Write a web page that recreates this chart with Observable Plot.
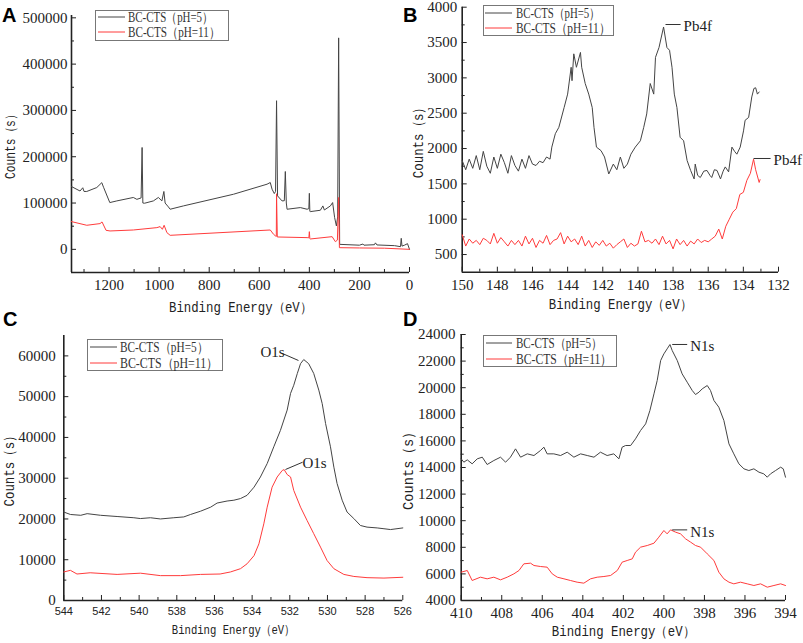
<!DOCTYPE html>
<html><head><meta charset="utf-8">
<script src="https://cdn.jsdelivr.net/npm/d3@7"></script>
<script src="https://cdn.jsdelivr.net/npm/@observablehq/plot@0.6"></script>
<style>
body{margin:0;background:#fff;}
#root{position:relative;width:803px;height:643px;overflow:hidden;background:#fff;}
#root svg{overflow:visible;position:absolute;}
.letter{position:absolute;font:bold 20px "Liberation Sans",Arial,sans-serif;color:#000;line-height:1;}
</style></head><body><div id="root"></div>
<script>
// ---------- Data ----------
const seriesLabels = ["BC-CTS（pH=5）", "BC-CTS（pH=11）"];
const seriesColors = ["#444444", "#ff3b3b"];

// Panel A (survey)
const aBlackE = [1350,1316,1305,1300,1289,1249,1229,1222,1197,1169,1103,1089,1072,1068,1065,1058,1023,1003,989,981,976,963,956,903,703,569,556,549,540,535,531,527,509,500,496,492,489,436,409,402,400,398,396,356,346,340,316,307,299,292,287,283,279,200,186,182,140,136,130,60,36,33,30,20,8,0];
const aBlackV = [135600,126000,133000,125000,125000,133500,144000,134000,101000,104600,112000,108000,111000,220000,100000,99600,104600,112000,104600,125000,100000,91600,86600,93800,119000,140700,144300,129900,120500,125000,321000,115400,104600,105000,168100,100000,86600,90200,86600,88000,121000,82000,81500,84400,93800,85000,93800,101000,68500,50500,70000,456700,10800,9000,11500,9000,10000,14000,9500,8000,5800,23800,7000,9000,12300,0];
const aRedE = [1350,1289,1236,1228,1212,1196,1103,1009,996,987,980,969,956,556,543,535,532,531,528,409,402,400,398,396,309,296,288,283,280,200,100,0];
const aRedV = [59900,52000,55600,59200,41100,39700,41800,46900,49100,43300,52000,36100,30300,41800,32500,28900,28000,120000,26700,25300,25000,38200,23000,22400,27400,16600,20000,112000,3600,3000,2500,0];

// Panel B (Pb4f)
const bBlackE = [150.0,149.8,149.6,149.4,149.2,149.0,148.8,148.6,148.4,148.2,148.0,147.8,147.6,147.4,147.2,147.0,146.8,146.6,146.4,146.2,146.0,145.8,145.6,145.4,145.2,145.0,144.9,144.7,144.5,144.2,144.0,143.8,143.75,143.65,143.5,143.27,143.2,143.0,142.8,142.6,142.5,142.36,142.1,141.9,141.66,141.4,141.2,141.0,140.8,140.6,140.4,140.15,139.86,139.67,139.5,139.3,139.1,139.0,138.8,138.54,138.35,138.2,138.06,137.93,137.78,137.6,137.4,137.2,137.0,136.8,136.74,136.6,136.45,136.25,136.07,135.9,135.8,135.65,135.5,135.3,135.15,135.03,134.84,134.65,134.5,134.37,134.18,133.99,133.9,133.7,133.52,133.4,133.3,133.2,133.1];
const bBlackV = [1830,1700,1850,1720,1900,1700,1960,1750,1650,1880,1720,1920,1800,1650,1900,1760,1680,1850,1720,1900,1780,1760,1820,1800,1880,1850,2020,2210,2300,2580,2770,3150,2960,3340,3150,3360,3150,2920,2770,2580,2300,2020,1970,1880,1640,1780,1700,1880,1720,1780,1920,2020,2110,2300,2490,2920,2770,3290,3430,3720,3430,3390,3150,2770,2580,2160,2110,1830,1690,1570,1780,1620,1590,1680,1690,1620,1590,1700,1690,1570,1680,1740,1670,2020,1960,1920,2020,2250,2400,2440,2730,2850,2860,2770,2800];
const bRedE = [150.0,149.8,149.6,149.4,149.2,149.0,148.8,148.6,148.4,148.2,148.0,147.8,147.6,147.4,147.2,147.0,146.8,146.6,146.4,146.2,146.0,145.8,145.6,145.4,145.2,145.0,144.8,144.6,144.4,144.2,144.0,143.8,143.6,143.4,143.2,143.0,142.8,142.6,142.4,142.2,142.0,141.8,141.6,141.4,141.2,141.0,140.8,140.6,140.4,140.2,140.0,139.8,139.6,139.4,139.2,139.0,138.8,138.6,138.4,138.2,138.0,137.8,137.6,137.4,137.2,137.0,136.8,136.6,136.4,136.2,136.0,135.8,135.6,135.4,135.2,135.0,134.8,134.6,134.4,134.2,134.0,133.8,133.6,133.42,133.3,133.1,133.05];
const bRedV = [780,620,720,660,700,640,730,700,650,800,660,740,680,620,700,640,700,620,760,650,730,600,700,660,770,640,700,720,810,650,760,680,720,640,760,620,700,600,680,630,700,620,660,590,640,680,720,600,660,620,650,830,680,700,660,720,640,760,650,700,580,720,640,700,620,690,650,720,670,700,680,720,760,860,720,900,1000,1100,1150,1350,1380,1550,1650,1850,1700,1520,1560];
const bAnnText = ["Pb4f", "Pb4f"];
const bAnnE1 = [138.43, 133.42], bAnnE2 = [137.57, 132.45], bAnnV = [3755, 1859];

// Panel C (O1s)
const cBlackE = [544,543.65,543.1,542.76,542.05,541.17,540.28,539.93,539.4,538.87,538.16,537.63,537.27,536.74,536.2,535.86,535.33,534.97,534.62,534.27,533.9,533.56,533.2,532.85,532.5,532.14,531.96,531.79,531.6,531.43,531.26,531.0,530.73,530.46,530.28,530.1,529.84,529.66,529.49,529.22,528.96,528.6,528.25,527.9,527.36,527.0,526.65,526];
const cBlackV = [21700,21100,20900,21300,20900,20600,20300,20100,20300,20000,20300,20500,21100,21900,22900,23900,24400,24600,25000,25800,27800,30300,33600,37700,41700,46700,50800,52800,55700,58100,59100,58100,55700,51600,48300,43400,37700,32700,28700,24600,21700,20100,18400,18000,17800,17600,17400,17800];
const cRedE = [544,543.65,543.3,542.6,541.17,539.93,538.87,537.8,536.74,535.7,535.15,534.62,534.27,533.9,533.64,533.38,533.2,532.94,532.67,532.4,532.3,532.14,531.96,531.79,531.43,531.08,530.73,530.37,530.02,529.66,529.13,528.6,527.9,527.0,526];
const cRedV = [7000,7400,6500,6800,6400,6700,6100,6100,6400,6500,7000,7800,9000,11000,13900,18800,22900,27800,30300,31900,32100,30900,30300,27000,22900,19600,16400,13100,9800,7800,6400,5900,5600,5500,5700];
const cAnnText = ["O1s", "O1s"];
const cAnnTE = [532.92, 530.69], cAnnTV = [60830, 33680];
const cAnnE1 = [532.39, 532.23], cAnnV1 = [60580, 32130];
const cAnnE2 = [531.54, 531.32], cAnnV2 = [58870, 33920];

// Panel D (N1s)
const dBlackE = [410.00,409.87,409.70,409.46,409.21,408.96,408.72,408.39,408.06,407.81,407.57,407.32,407.07,406.74,406.41,406.09,405.92,405.76,405.43,405.10,404.77,404.44,404.11,403.78,403.45,403.13,402.80,402.47,402.22,402.06,401.89,401.64,401.40,401.15,400.90,400.69,400.49,400.33,400.16,400.00,399.84,399.70,399.59,399.34,399.10,398.85,398.60,398.44,398.27,398.11,397.86,397.70,397.53,397.29,397.04,396.79,396.55,396.30,396.05,395.81,395.56,395.31,395.07,394.90,394.74,394.49,394.24,394.11,394.00];
const dBlackV = [14650,14400,14575,14275,14650,14776,14224,14525,14776,14400,14776,15402,14776,15026,14901,15277,15528,15026,15026,14901,15152,14776,15026,14901,14776,15152,14901,15026,14650,15528,15653,15653,16154,16781,17282,18284,19537,20540,22043,22544,22920,23246,22795,22043,21041,20414,19788,19487,19663,19913,20164,19788,19036,18535,17532,15778,15026,14275,13899,13773,13899,13648,13523,13272,13523,13773,14024,13899,13272];
const dRedE = [410.00,409.70,409.46,409.05,408.72,408.39,408.06,407.73,407.40,407.15,406.91,406.58,406.41,406.09,405.76,405.51,405.26,404.93,404.61,404.28,403.95,403.62,403.29,402.96,402.63,402.30,402.06,401.81,401.56,401.40,401.15,400.82,400.49,400.25,400.00,399.84,399.67,399.42,399.18,398.93,398.68,398.44,398.19,397.86,397.53,397.29,397.04,396.79,396.55,396.22,395.89,395.56,395.23,394.90,394.57,394.24,394.00];
const dRedV = [6130,6255,5504,5754,5629,5754,5554,5754,6005,6255,6757,6807,6631,6556,6506,6005,5754,5629,5504,5378,5303,5629,5754,5804,5880,6255,6882,7007,7133,7634,8010,8135,8310,8761,9263,9012,9313,9137,9012,8636,8386,8135,8010,7508,7007,6130,5629,5378,5253,5378,5253,5128,5253,5002,5128,5253,5128];
const dAnnText = ["N1s", "N1s"];
const dAnnE1 = [399.59, 399.59], dAnnE2 = [398.85, 398.85], dAnnV = [23250, 9310];

// Tick values
const aXTicks = [1200,1000,800,600,400,200,0], aXMinor = [1300,1100,900,700,500,300,100];
const aYTicks = [0,100000,200000,300000,400000,500000], aYMinor = [50000,150000,250000,350000,450000];
const bXTicks = [150,148,146,144,142,140,138,136,134,132], bXMinor = [149,147,145,143,141,139,137,135,133];
const bYTicks = [500,1000,1500,2000,2500,3000,3500,4000], bYMinor = [750,1250,1750,2250,2750,3250,3750];
const cXTicks = [544,542,540,538,536,534,532,530,528,526], cXMinor = [543,541,539,537,535,533,531,529,527];
const cYTicks = [0,10000,20000,30000,40000,50000,60000], cYMinor = [5000,15000,25000,35000,45000,55000];
const dXTicks = [410,408,406,404,402,400,398,396,394], dXMinor = [409,407,405,403,401,399,397,395];
const dYTicks = [4000,6000,8000,10000,12000,14000,16000,18000,20000,22000,24000], dYMinor = [5000,7000,9000,11000,13000,15000,17000,19000,21000,23000];

const xTitle = "Binding Energy（eV）";
const yTitle = "Counts（s）";

// ---------- Drawing ----------
const root = document.getElementById("root");
const zip = (E, V) => E.map((e, i) => ({e, v: V[i]}));
const SERIF = '"Liberation Serif", "Times New Roman", serif';
const MONO = '"Liberation Mono", "DejaVu Sans Mono", monospace';

function panel(c) {
  const marks = [
    Plot.ruleX([c.xdom[0]], {stroke: "#222", strokeWidth: 1.6}),
    Plot.ruleY([c.ydom[0]], {stroke: "#222", strokeWidth: 1.6}),
    Plot.axisX({ticks: c.xt, tickSize: -5, tickPadding: c.xpad, tickFormat: d => String(d),
      label: xTitle, labelAnchor: "center", labelArrow: "none", labelOffset: c.xlo}),
    Plot.axisX({ticks: c.xm, tickSize: -3, tickFormat: () => "", label: null}),
    Plot.axisY({ticks: c.yt, tickSize: -5, tickPadding: c.ypad, tickFormat: d => String(d),
      label: yTitle, labelAnchor: "center", labelArrow: "none", labelOffset: c.ylo}),
    Plot.axisY({ticks: c.ym, tickSize: -3, tickFormat: () => "", label: null}),
    Plot.line(zip(c.bE, c.bV), {x: "e", y: "v", stroke: seriesColors[0], strokeWidth: 1}),
    Plot.line(zip(c.rE, c.rV), {x: "e", y: "v", stroke: seriesColors[1], strokeWidth: 1}),
    ...(c.extra || [])
  ];
  const svg = Plot.plot({
    width: c.w, height: c.h,
    marginLeft: c.ml, marginRight: c.mr, marginTop: c.mt, marginBottom: c.mb,
    style: {fontFamily: SERIF, fontSize: "15px", color: "#222", background: "transparent", overflow: "visible"},
    x: {domain: c.xdom},
    y: {domain: c.ydom},
    marks
  });
  svg.style.left = c.left + "px";
  svg.style.top = c.top + "px";
  root.appendChild(svg);
  const s = d3.select(svg);
  // tick labels and annotations: serif
  s.selectAll("text").style("font-family", SERIF).style("font-size", "15px").attr("fill", "#222");
  // x tick labels override (panel C uses small sans)
  if (c.xfs) {
    const xs = new Set(c.xt.map(String));
    s.selectAll('g[aria-label="x-axis tick label"] text')
      .filter(function () { return xs.has(this.textContent); })
      .style("font-family", c.xff).style("font-size", c.xfs + "px");
  }
  s.selectAll("text").filter(function () { return this.textContent === xTitle; })
    .style("font-family", MONO).style("font-size", c.xlfs + "px")
    .attr("textLength", c.xll).attr("lengthAdjust", "spacingAndGlyphs");
  s.selectAll("text").filter(function () { return this.textContent === yTitle; })
    .style("font-family", MONO).style("font-size", c.ylfs + "px")
    .attr("textLength", c.yll).attr("lengthAdjust", "spacingAndGlyphs");
  return svg;
}

function legend(left, top, w, h, rowY, lineX, textX, lens, fs) {
  const svg = d3.select(root).append("svg")
    .attr("width", w + 1).attr("height", h + 1)
    .style("left", left + "px").style("top", top + "px");
  svg.append("rect").attr("x", 0.5).attr("y", 0.5).attr("width", w).attr("height", h)
    .attr("fill", "white").attr("stroke", "#777").attr("stroke-width", 1);
  seriesLabels.forEach((lab, i) => {
    svg.append("line").attr("x1", lineX[0]).attr("x2", lineX[1]).attr("y1", rowY[i]).attr("y2", rowY[i])
      .attr("stroke", seriesColors[i]).attr("stroke-width", 1);
    svg.append("text").attr("x", textX).attr("y", rowY[i]).attr("dy", "0.35em")
      .attr("textLength", lens[i]).attr("lengthAdjust", "spacingAndGlyphs")
      .style("font-family", SERIF).style("font-size", fs + "px").attr("fill", "#333")
      .text(lab);
  });
}

function letter(t, x, y) {
  const d = document.createElement("div");
  d.className = "letter"; d.textContent = t;
  d.style.left = x + "px"; d.style.top = y + "px";
  root.appendChild(d);
}

// A
panel({left: 0, top: 0, w: 412, h: 320, ml: 71, mr: 3, mt: 15, mb: 48,
  xdom: [1350, 0], ydom: [-50000, 505000], xt: aXTicks, xm: aXMinor, yt: aYTicks, ym: aYMinor,
  xpad: 12, ypad: 9, xlo: 39, ylo: 66, xlfs: 14, xll: 143, ylfs: 14, yll: 70,
  bE: aBlackE, bV: aBlackV, rE: aRedE, rV: aRedV});

// B
const bAnn = bAnnText.map((t, i) => ({t, e1: bAnnE1[i], e2: bAnnE2[i], v: bAnnV[i]}));
panel({left: 400, top: 0, w: 403, h: 320, ml: 61.7, mr: 25, mt: 6.7, mb: 48.3,
  xdom: [150, 132], ydom: [250, 4000], xt: bXTicks, xm: bXMinor, yt: bYTicks, ym: bYMinor,
  xpad: 12, ypad: 10, xlo: 37, ylo: 50, xlfs: 14, xll: 143, ylfs: 15, yll: 77,
  bE: bBlackE, bV: bBlackV, rE: bRedE, rV: bRedV,
  extra: [
    Plot.link(bAnn, {x1: "e1", x2: "e2", y1: "v", y2: "v", stroke: "#333", strokeWidth: 1}),
    Plot.text(bAnn, {x: "e2", y: "v", text: "t", textAnchor: "start", dx: 3, dy: 2})
  ]});

// C
const cAnn = cAnnText.map((t, i) => ({t, te: cAnnTE[i], tv: cAnnTV[i], e1: cAnnE1[i], v1: cAnnV1[i], e2: cAnnE2[i], v2: cAnnV2[i]}));
panel({left: 0, top: 320, w: 412, h: 323, ml: 63.3, mr: 9.7, mt: 15, mb: 43,
  xdom: [544, 526], ydom: [0, 65000], xt: cXTicks, xm: cXMinor, yt: cYTicks, ym: cYMinor,
  xpad: 12, ypad: 13, xlo: 33, ylo: 60, xlfs: 13, xll: 123, ylfs: 15, yll: 77,
  xfs: 11, xff: '"Liberation Sans", Arial, sans-serif',
  bE: cBlackE, bV: cBlackV, rE: cRedE, rV: cRedV,
  extra: [
    Plot.link(cAnn, {x1: "e1", x2: "e2", y1: "v1", y2: "v2", stroke: "#333", strokeWidth: 1}),
    Plot.text(cAnn, {x: "te", y: "tv", text: "t"})
  ]});

// D
const dAnn = dAnnText.map((t, i) => ({t, e1: dAnnE1[i], e2: dAnnE2[i], v: dAnnV[i]}));
panel({left: 400, top: 320, w: 403, h: 323, ml: 60.7, mr: 18, mt: 14, mb: 43,
  xdom: [410, 394], ydom: [4000, 24000], xt: dXTicks, xm: dXMinor, yt: dYTicks, ym: dYMinor,
  xpad: 12, ypad: 10.7, xlo: 35, ylo: 59, xlfs: 14, xll: 143, ylfs: 15, yll: 85,
  bE: dBlackE, bV: dBlackV, rE: dRedE, rV: dRedV,
  extra: [
    Plot.link(dAnn, {x1: "e1", x2: "e2", y1: "v", y2: "v", stroke: "#333", strokeWidth: 1}),
    Plot.text(dAnn, {x: "e2", y: "v", text: "t", textAnchor: "start", dx: 3, dy: 2})
  ]});

// Legends
legend(95, 10, 133, 30, [7, 22], [3, 30], 33, [85, 92], 14);
legend(483, 5, 130, 30, [8, 23], [2, 29], 33, [84, 94], 14);
legend(87, 339, 135, 31, [8, 24], [3, 30], 33, [88, 98], 14);
legend(483, 335, 133, 31, [8, 24], [3, 29], 33, [86, 96], 14);

// Panel letters
letter("A", 2, 5);
letter("B", 403, 5);
letter("C", 3, 309);
letter("D", 403, 309);
</script>
</body></html>
